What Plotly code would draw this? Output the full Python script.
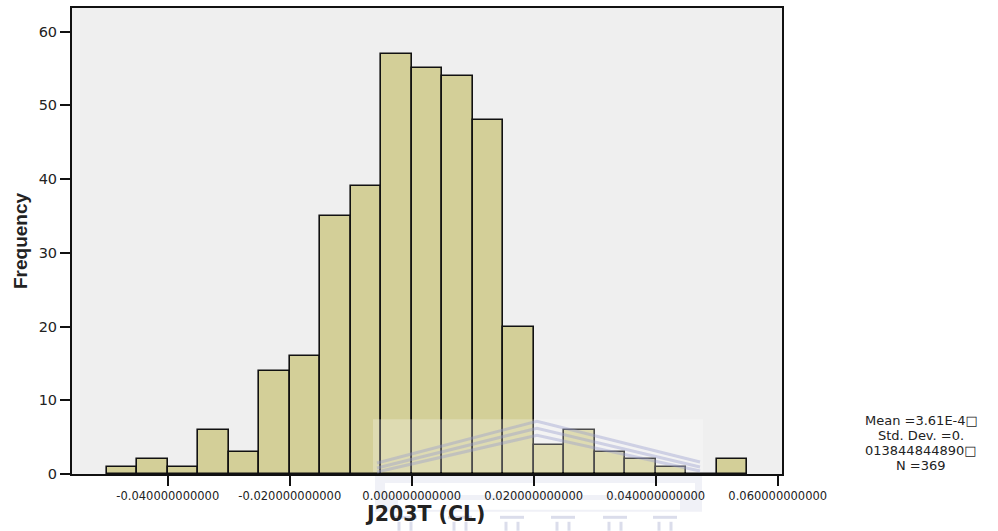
import plotly.graph_objects as go

# Histogram of J203T (CL): bin left edges (width 0.005) and counts per bin
bin_starts = [-0.050, -0.045, -0.040, -0.035, -0.030, -0.025, -0.020, -0.015,
              -0.010, -0.005, 0.000, 0.005, 0.010, 0.015, 0.020, 0.025,
              0.030, 0.035, 0.040, 0.045, 0.050]
counts = [1, 2, 1, 6, 3, 14, 16, 35, 39, 57, 55, 54, 48, 20, 4, 6, 3, 2, 1, 0, 2]
bin_width = 0.005

x_ticks = [-0.04, -0.02, 0.0, 0.02, 0.04, 0.06]
x_tick_labels = ["-0.040000000000", "-0.020000000000", "0.000000000000",
                 "0.020000000000", "0.040000000000", "0.060000000000"]
y_ticks = [0, 10, 20, 30, 40, 50, 60]

stats_lines = ["Mean =3.61E-4\u25a1", "Std. Dev. =0.", "013844844890\u25a1", "N =369"]

centers = [s + bin_width / 2 for s in bin_starts]

# page geometry (pixels)
W, H = 998, 531
L, R, T, B = 72, 216, 6, 57
PW, PH = W - L - R, H - T - B


def px(x):
    return (x - L) / PW


def py(y):
    return (H - B - y) / PH


wide = "DejaVu Sans, Verdana, sans-serif"
narrow = "Liberation Sans, Arial, sans-serif"
ink = "#222222"

fig = go.Figure()
fig.add_trace(go.Bar(
    x=centers, y=counts, width=bin_width,
    marker=dict(color="#D3CF98", line=dict(color="#111111", width=1.6)),
    hoverinfo="x+y",
))

fig.update_layout(
    width=W, height=H,
    margin=dict(l=L, r=R, t=T, b=B),
    paper_bgcolor="white",
    plot_bgcolor="#EFEFEF",
    showlegend=False,
    bargap=0,
    font=dict(family=wide, color=ink),
    xaxis=dict(
        range=[-0.0557, 0.0607],
        tickvals=x_ticks, ticktext=x_tick_labels,
        ticks="outside", ticklen=10, tickwidth=2, tickcolor="#111111",
        tickfont=dict(size=11.5, family=wide, color=ink),
        showline=True, linecolor="#111111", linewidth=2, mirror=True,
        showgrid=False, zeroline=False,
    ),
    yaxis=dict(
        range=[0, 63.2],
        tickvals=y_ticks,
        ticks="outside", ticklen=10, tickwidth=2, tickcolor="#111111",
        tickfont=dict(size=14.5, family=wide, color=ink),
        showline=True, linecolor="#111111", linewidth=2, mirror=True,
        showgrid=False, zeroline=False,
    ),
)

# axis titles
fig.add_annotation(text="<b>J203T (CL)</b>", xref="paper", yref="paper",
                   x=px(425), y=py(514), xanchor="center", yanchor="middle",
                   showarrow=False, font=dict(size=20.5, family=wide, color=ink))
fig.add_annotation(text="<b>Frequency</b>", xref="paper", yref="paper",
                   x=px(20), y=py(240), xanchor="center", yanchor="middle",
                   textangle=-90, showarrow=False,
                   font=dict(size=19, family=narrow, color=ink))

# summary statistics, one line per annotation for tight spacing
for line, yy in zip(stats_lines, [420, 435.2, 450.4, 465.6]):
    fig.add_annotation(text=line, xref="paper", yref="paper",
                       x=px(921), y=py(yy), xanchor="center", yanchor="middle",
                       showarrow=False, borderpad=0,
                       font=dict(size=13, family=wide, color=ink))

# faint emblem stamped over the lower middle of the page
wm = "rgba(150,155,205,0.40)"
fig.add_shape(type="rect", xref="paper", yref="paper", layer="above",
              x0=px(373), x1=px(703), y0=py(419), y1=py(472),
              fillcolor="rgba(255,255,255,0.25)", line=dict(width=0))
for apex, left_y, right_y in [(421, 463, 462), (428, 468, 467), (435, 472, 471)]:
    fig.add_shape(type="path", xref="paper", yref="paper", layer="above",
                  path=(f"M {px(377)},{py(left_y)} L {px(537)},{py(apex)} "
                        f"L {px(700)},{py(right_y)}"),
                  line=dict(color=wm, width=3))
fig.add_shape(type="rect", xref="paper", yref="paper", layer="below",
              x0=px(375), x1=px(702), y0=py(475), y1=py(512),
              fillcolor="rgba(200,203,228,0.28)", line=dict(width=0))
fig.add_shape(type="rect", xref="paper", yref="paper", layer="below",
              x0=px(385), x1=px(695), y0=py(483), y1=py(495),
              fillcolor="white", line=dict(width=0))
fig.add_shape(type="rect", xref="paper", yref="paper", layer="below",
              x0=px(398), x1=px(680), y0=py(500), y1=py(510),
              fillcolor="white", line=dict(width=0))
for cx in [405, 460, 512, 563, 615, 665]:
    fig.add_shape(type="rect", xref="paper", yref="paper", layer="below",
                  x0=px(cx - 12), x1=px(cx + 12), y0=py(516), y1=py(519),
                  fillcolor="rgba(175,180,210,0.45)", line=dict(width=0))
    for dx in (-6, 6):
        fig.add_shape(type="rect", xref="paper", yref="paper", layer="below",
                      x0=px(cx + dx - 1.5), x1=px(cx + dx + 1.5),
                      y0=py(522), y1=py(531),
                      fillcolor="rgba(175,180,210,0.45)", line=dict(width=0))

fig.write_html("out.html")
